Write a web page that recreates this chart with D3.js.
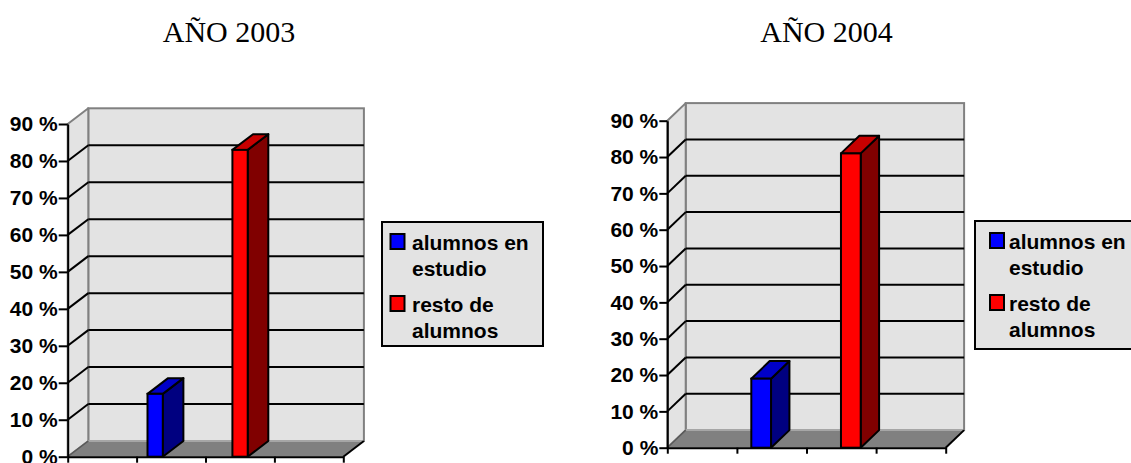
<!DOCTYPE html>
<html>
<head>
<meta charset="utf-8">
<script src="https://cdn.jsdelivr.net/npm/d3@7"></script>
<style>
  html, body { margin: 0; padding: 0; background: #ffffff; }
  svg { display: block; }
</style>
</head>
<body>
<svg id="chart" width="1131" height="463"></svg>
<script>
// Share of students in the study vs. the rest, per year
const titles = ["AÑO 2003", "AÑO 2004"];
const series = ["alumnos en estudio", "resto de alumnos"];
const legendLines = [["alumnos en", "estudio"], ["resto de", "alumnos"]];
const values2003 = [17, 83];
const values2004 = [19, 81];
const yTicks = [0, 10, 20, 30, 40, 50, 60, 70, 80, 90];
const floorSlots = [0, 1, 2, 3, 4];

const frontColors = ["#0000ff", "#ff0000"];
const sideColors = ["#000080", "#800000"];
const topColors = ["#0000c8", "#c80000"];

const WALL = "#e3e3e3";
const FLOOR = "#808080";
const EDGE = "#808080";
const LABEL_FONT = "'Liberation Sans', Arial, sans-serif";
const LABEL_SIZE = 21;

// Layout of the two panels
const panels = [
  {
    title: titles[0], values: values2003, titleX: 229, titleY: 42,
    x0: 67.7, x1: 343.3, y0: 456.7, yTop: 124, dx: 20.6, dy: -15.7,
    barRange: [147.5, 247.7], barPad: 0.82, tickSize: 9,
    legend: { x: 382, y: 222, w: 161, h: 124, swX: 8.5, txtX: 30 }
  },
  {
    title: titles[1], values: values2004, titleX: 826.5, titleY: 42,
    x0: 667.3, x1: 945.7, y0: 447.7, yTop: 120.7, dx: 18.4, dy: -17.6,
    barRange: [751.3, 860.7], barPad: 0.78, tickSize: 8,
    legend: { x: 975, y: 221, w: 170, h: 128, swX: 15, txtX: 34 }
  }
];

const svg = d3.select("#chart");

function drawPanel(p) {
  const g = svg.append("g");
  const y = d3.scaleLinear().domain([0, 90]).range([p.y0, p.yTop]);
  const x = d3.scaleBand().domain(series).range(p.barRange).paddingInner(p.barPad).paddingOuter(0);
  const slots = d3.scaleLinear().domain([0, 4]).range([p.x0, p.x1]);
  const dx = p.dx, dy = p.dy;
  const line = d3.line();

  // Title
  g.append("text")
    .attr("x", p.titleX).attr("y", p.titleY)
    .attr("text-anchor", "middle")
    .attr("font-family", "'Liberation Serif', 'Times New Roman', serif")
    .attr("font-size", 30)
    .attr("fill", "#000")
    .text(p.title);

  // Back wall
  g.append("rect")
    .attr("x", p.x0 + dx).attr("y", y(90) + dy)
    .attr("width", p.x1 - p.x0).attr("height", y(0) - y(90))
    .attr("fill", WALL).attr("stroke", EDGE).attr("stroke-width", 2);

  // Side wall
  g.append("path")
    .attr("d", line([[p.x0, y(0)], [p.x0, y(90)], [p.x0 + dx, y(90) + dy], [p.x0 + dx, y(0) + dy]]) + "Z")
    .attr("fill", WALL).attr("stroke", EDGE).attr("stroke-width", 2).attr("stroke-linejoin", "round");

  // Floor
  g.append("path")
    .attr("d", line([[p.x0, y(0)], [p.x1, y(0)], [p.x1 + dx, y(0) + dy], [p.x0 + dx, y(0) + dy]]) + "Z")
    .attr("fill", FLOOR);
  g.append("path")
    .attr("d", line([[p.x0 + dx, y(0) + dy], [p.x1 + dx, y(0) + dy]]))
    .attr("stroke", "#a6a6a6").attr("stroke-width", 2);
  g.append("path")
    .attr("d", line([[p.x0, y(0)], [p.x0 + dx, y(0) + dy]]))
    .attr("stroke", "#5a5a5a").attr("stroke-width", 1.5);
  g.append("path")
    .attr("d", line([[p.x1, y(0)], [p.x1 + dx, y(0) + dy]]))
    .attr("stroke", "#000").attr("stroke-width", 2);

  // Gridlines across the back wall and down the side wall
  const grid = yTicks.filter(v => v > 0 && v < 90);
  g.selectAll(".grid-back").data(grid).join("path")
    .attr("d", v => line([[p.x0 + dx, y(v) + dy], [p.x1 + dx, y(v) + dy]]))
    .attr("stroke", "#000").attr("stroke-width", 2);
  g.selectAll(".grid-side").data(grid).join("path")
    .attr("d", v => line([[p.x0, y(v)], [p.x0 + dx, y(v) + dy]]))
    .attr("stroke", "#000").attr("stroke-width", 2);

  // Value axis
  const yAxis = g.append("g")
    .attr("transform", `translate(${p.x0},0)`)
    .call(d3.axisLeft(y).tickValues(yTicks).tickFormat(d => d + " %")
      .tickSize(p.tickSize).tickSizeOuter(0).tickPadding(1));
  yAxis.select(".domain").attr("stroke", "#000").attr("stroke-width", 2);
  yAxis.selectAll(".tick line").attr("stroke", "#000").attr("stroke-width", 2);
  yAxis.selectAll(".tick text")
    .attr("font-family", LABEL_FONT).attr("font-weight", "bold")
    .attr("font-size", LABEL_SIZE).attr("fill", "#000");

  // Category axis along the front edge of the floor
  const xAxis = g.append("g")
    .attr("transform", `translate(0,${p.y0})`)
    .call(d3.axisBottom(slots).tickValues(floorSlots).tickFormat("")
      .tickSize(6).tickSizeOuter(0));
  xAxis.select(".domain").attr("stroke", "#000").attr("stroke-width", 2);
  xAxis.selectAll(".tick line").attr("stroke", "#000").attr("stroke-width", 2);

  // 3D columns
  const bars = g.selectAll(".bar").data(series.map((s, i) => ({ s, i, v: p.values[i] })))
    .join("g").attr("class", "bar");
  const bw = x.bandwidth();
  bars.append("path") // side face
    .attr("d", d => {
      const xr = x(d.s) + bw, yt = y(d.v), yb = y(0);
      return line([[xr, yt], [xr + dx, yt + dy], [xr + dx, yb + dy], [xr, yb]]) + "Z";
    })
    .attr("fill", d => sideColors[d.i]).attr("stroke", "#000").attr("stroke-width", 2).attr("stroke-linejoin", "round");
  bars.append("path") // top face
    .attr("d", d => {
      const xl = x(d.s), yt = y(d.v);
      return line([[xl, yt], [xl + dx, yt + dy], [xl + bw + dx, yt + dy], [xl + bw, yt]]) + "Z";
    })
    .attr("fill", d => topColors[d.i]).attr("stroke", "#000").attr("stroke-width", 2).attr("stroke-linejoin", "round");
  bars.append("rect") // front face
    .attr("x", d => x(d.s)).attr("y", d => y(d.v))
    .attr("width", bw).attr("height", d => y(0) - y(d.v))
    .attr("fill", d => frontColors[d.i]).attr("stroke", "#000").attr("stroke-width", 2);

  // Legend
  const L = p.legend;
  const lg = g.append("g").attr("transform", `translate(${L.x},${L.y})`);
  lg.append("rect").attr("width", L.w).attr("height", L.h)
    .attr("fill", WALL).attr("stroke", "#000").attr("stroke-width", 2);
  const items = lg.selectAll(".item").data(series).join("g")
    .attr("transform", (d, i) => `translate(0,${12 + i * 62})`);
  items.append("rect")
    .attr("x", L.swX).attr("y", 0).attr("width", 14).attr("height", 15)
    .attr("fill", (d, i) => frontColors[i]).attr("stroke", "#000").attr("stroke-width", 2);
  items.each(function (d, i) {
    d3.select(this).selectAll("text").data(legendLines[i]).join("text")
      .attr("x", L.txtX).attr("y", (t, j) => 16 + j * 25.5)
      .attr("font-family", LABEL_FONT).attr("font-weight", "bold")
      .attr("font-size", LABEL_SIZE).attr("fill", "#000")
      .text(t => t);
  });
}

panels.forEach(drawPanel);
</script>
</body>
</html>
